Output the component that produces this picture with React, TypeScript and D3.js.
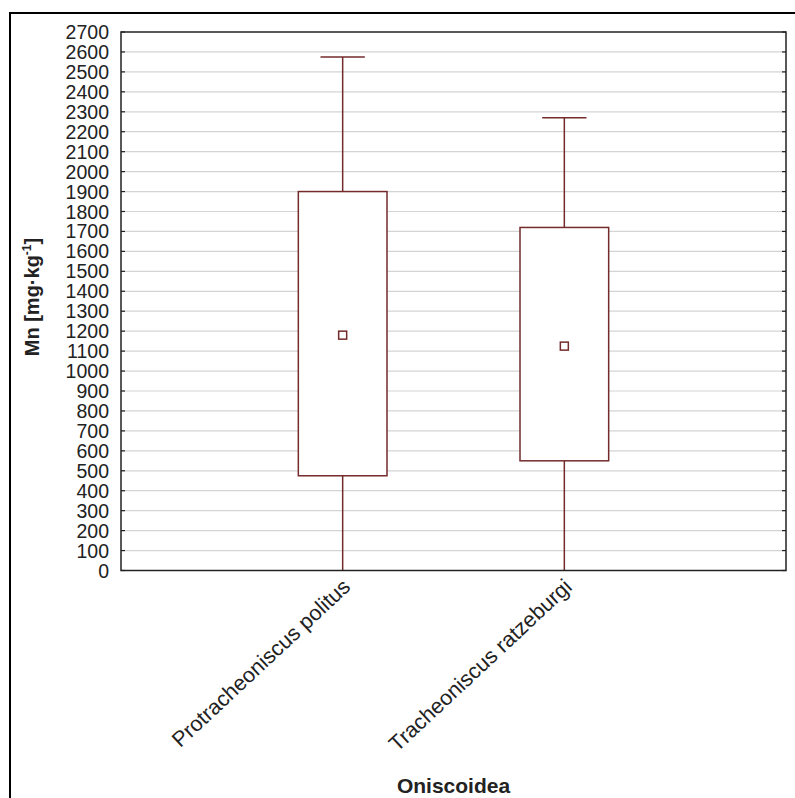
import React from "react";
import * as d3 from "d3";

const categories = ["Protracheoniscus politus", "Tracheoniscus ratzeburgi"];
const mins = [0, 0];
const q1s = [475, 550];
const q3s = [1900, 1720];
const maxs = [2575, 2270];
const means = [1180, 1125];
const yTicks = d3.range(0, 2701, 100);

const W = 795;
const H = 798;
const left = 121;
const right = 786;
const top = 32;
const bottom = 570.5;
const boxColor = "#742b2b";
const font = "Liberation Sans, Arial, sans-serif";

export default function App() {
  const x = d3.scalePoint<string>().domain(categories).range([left, right]).padding(1);
  const y = d3.scaleLinear().domain([0, 2700]).range([bottom, top]);
  const step = x.step();
  const boxW = step * 0.4;
  const capW = step * 0.2;
  return (
    <svg width={W} height={H} style={{ position: "absolute", left: 0, top: 0, background: "#fff" }}>
      <rect x={0} y={0} width={W} height={H} fill="#fff" />
      <path d={`M10,${H + 5} L10,13 L${W + 5},13`} fill="none" stroke="#000" strokeWidth={2} />
      {yTicks.map((t) => (
        <g key={t}>
          {t > 0 && t < 2700 && (
            <line x1={left} x2={right} y1={y(t)} y2={y(t)} stroke="#d4d4d4" strokeWidth={1.2} />
          )}
          <line x1={left} x2={left + 4} y1={y(t)} y2={y(t)} stroke="#222" strokeWidth={1.2} />
          <line x1={right - 4} x2={right} y1={y(t)} y2={y(t)} stroke="#222" strokeWidth={1.2} />
          <text x={109} y={y(t)} dy="0.36em" textAnchor="end" fontFamily={font} fontSize={19.5} fill="#222">
            {t}
          </text>
        </g>
      ))}
      {categories.map((c, i) => {
        const cx = x(c) as number;
        return (
          <g key={c}>
            <line x1={cx} x2={cx} y1={y(maxs[i])} y2={y(q3s[i])} stroke={boxColor} strokeWidth={1.5} />
            <line x1={cx} x2={cx} y1={y(q1s[i])} y2={y(mins[i])} stroke={boxColor} strokeWidth={1.5} />
            <line x1={cx - capW / 2} x2={cx + capW / 2} y1={y(maxs[i])} y2={y(maxs[i])} stroke={boxColor} strokeWidth={1.5} />
            <rect x={cx - boxW / 2} y={y(q3s[i])} width={boxW} height={y(q1s[i]) - y(q3s[i])} fill="#fff" stroke={boxColor} strokeWidth={1.5} />
            <rect x={cx - 4} y={y(means[i]) - 4} width={8} height={8} fill="#fff" stroke={boxColor} strokeWidth={1.5} />
            <text transform={`translate(${cx + 9},${bottom + 18}) rotate(-43)`} textAnchor="end" fontFamily={font} fontSize={21.5} fill="#222">
              {c}
            </text>
          </g>
        );
      })}
      <rect x={left} y={top} width={right - left} height={bottom - top} fill="none" stroke="#222" strokeWidth={1.5} />
      <text transform={`translate(39,297) rotate(-90)`} textAnchor="middle" fontFamily={font} fontSize={20} fontWeight="bold" fill="#222">
        Mn [mg·kg<tspan dy={-8} fontSize={12}>-1</tspan><tspan dy={8}>]</tspan>
      </text>
      <text x={(left + right) / 2} y={793} textAnchor="middle" fontFamily={font} fontSize={21} fontWeight="bold" fill="#222">
        Oniscoidea
      </text>
    </svg>
  );
}
